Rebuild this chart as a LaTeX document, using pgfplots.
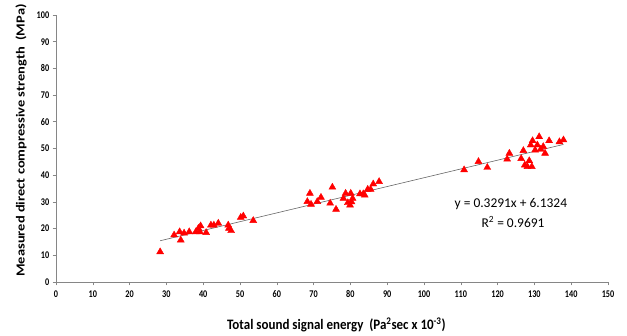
\documentclass[border=0pt]{standalone}
\usepackage{pgfplots}
\pgfplotsset{compat=1.18}
\usetikzlibrary{calc}
\usepackage{fontspec}
\setmainfont{Carlito}
\newfontfamily\sq[FakeStretch=0.8]{Carlito}
\newfontfamily\sqb[FakeStretch=0.9]{Carlito}
\definecolor{axgray}{RGB}{134,134,134}
\begin{document}
\begin{tikzpicture}
\begin{axis}[name=ax,
  scale only axis, width=552bp, height=267bp,
  xmin=0, xmax=150, ymin=0, ymax=100,
  xtick={0,10,...,150}, ytick={0,10,...,100},
  axis lines=left, axis line style={axgray, -},
  tick style={axgray, line width=0.6pt}, tick align=outside, major tick length=3.3bp,
  tick label style={font=\fontsize{10.3}{11}\sq\bfseries},
  /pgf/number format/assume math mode=true,
  xticklabel style={yshift=-1.5bp},
  clip=false,
]
\addplot[only marks, mark=triangle*, mark size=4bp, color=red, mark options={fill=red, draw=red}] coordinates {
(28.3,11.3) (32.1,17.6) (33.6,18.8) (33.9,15.7) (34.8,18.3) (36.2,18.8) (38.0,18.8)
(38.7,20.1) (39.3,21.0) (39.1,18.8) (40.8,18.5) (42.1,21.3) (42.9,21.3) (44.1,22.0)
(46.8,21.3) (47.0,20.1) (47.6,19.2) (50.2,24.2) (50.9,24.7) (53.6,23.0)
(68.3,30.1) (69.0,33.2) (69.3,29.1) (71.0,30.1) (72.0,31.7) (74.5,29.5) (75.1,35.5)
(76.1,27.2) (78.1,31.3) (78.7,33.2) (79.3,29.7) (80.1,33.2) (79.9,28.8) (80.6,31.3)
(80.3,30.0) (82.6,33.0) (83.5,33.0) (83.9,32.5) (84.7,34.7) (85.5,34.7) (86.2,36.7)
(87.8,37.6)
(110.9,42.0) (114.8,45.1) (117.2,42.9) (122.6,46.0) (123.2,48.2) (126.4,46.2)
(127.0,49.2) (127.4,43.8) (128.1,43.2) (128.6,45.4) (129.3,43.2) (129.0,51.3)
(129.5,52.9) (130.2,49.4) (130.8,51.3) (131.3,54.4) (131.7,49.7) (132.4,50.7)
(132.9,48.2) (134.0,52.9) (136.8,52.5) (137.9,53.2)
};
\addplot[color=black!60, line width=0.6pt] coordinates {(28.3,15.45) (137.9,51.52)};
\node[font=\fontsize{13.5}{14}\selectfont, anchor=center] at (axis cs:123.6,29.2) {y = 0.3291x + 6.1324};
\node[font=\fontsize{13.5}{14}\selectfont, anchor=center] at (axis cs:124.2,22.6) {R\textsuperscript{2} = 0.9691};
\end{axis}
\node[font=\fontsize{14.5}{15}\sqb\bfseries, anchor=center] at ([yshift=-43bp]$(ax.south west)!0.508!(ax.south east)$) {Total sound signal energy\ \ (Pa\textsuperscript{2}sec x 10\textsuperscript{-3})};
\node[font=\fontsize{14.5}{16}\selectfont\bfseries, rotate=90, anchor=center] at ([xshift=-35bp]$(ax.south west)!0.53!(ax.north west)$) {\scalebox{1}[0.85]{Measured direct compressive strength\ \ (MPa)}};
\pgfresetboundingbox
\useasboundingbox ([xshift=-56bp,yshift=-54bp]ax.south west) rectangle ([xshift=19bp,yshift=15bp]ax.north east);
\end{tikzpicture}
\end{document}
